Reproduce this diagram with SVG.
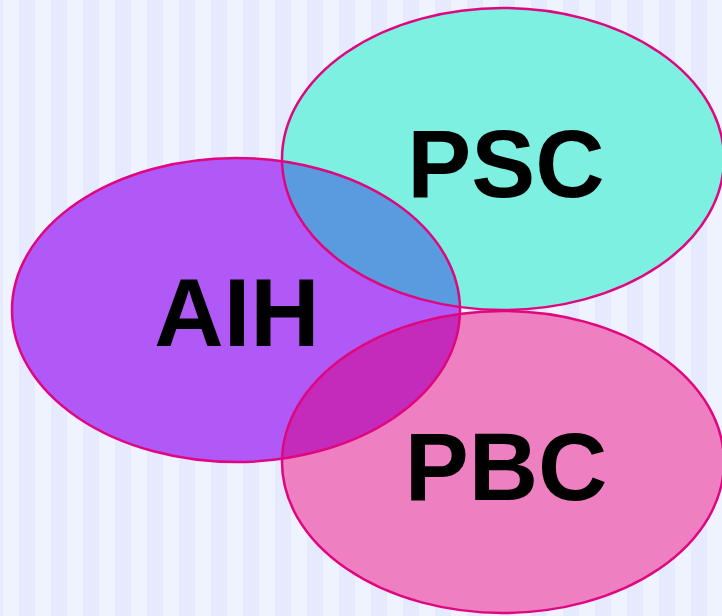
<svg xmlns="http://www.w3.org/2000/svg" xmlns:xlink="http://www.w3.org/1999/xlink" width="722" height="616" viewBox="0 0 722 616">
  <defs>
    <pattern id="stripes" x="19" y="0" width="32" height="616" patternUnits="userSpaceOnUse">
      <rect x="0" y="0" width="16" height="616" fill="#e5eaff"/>
      <rect x="16" y="0" width="16" height="616" fill="#eff3ff"/>
    </pattern>
    <ellipse id="e-aih" cx="236" cy="310" rx="224" ry="152"/>
    <ellipse id="e-psc" cx="503" cy="159" rx="221" ry="151"/>
    <ellipse id="e-pbc" cx="503" cy="462" rx="221" ry="151"/>
    <clipPath id="clip-aih"><use xlink:href="#e-aih"/></clipPath>
  </defs>
  <style>
    .lbl { font-family: "Liberation Sans", Arial, sans-serif; font-weight: bold; font-size: 96px; fill: #000; text-anchor: middle; }
    .edge { fill: none; stroke: #e0067f; stroke-width: 2.5; }
  </style>
  <rect width="722" height="616" fill="url(#stripes)"/>
  <g id="node-aih">
    <use xlink:href="#e-aih" fill="#b159f7"/>
  </g>
  <g id="node-psc">
    <use xlink:href="#e-psc" fill="#7ef0e2"/>
  </g>
  <g id="node-pbc">
    <use xlink:href="#e-pbc" fill="#ee7fc0"/>
  </g>
  <g id="overlaps" clip-path="url(#clip-aih)">
    <use xlink:href="#e-psc" fill="#5a9adf"/>
    <use xlink:href="#e-pbc" fill="#c42bba"/>
  </g>
  <g id="outlines">
    <use xlink:href="#e-aih" class="edge"/>
    <use xlink:href="#e-psc" class="edge"/>
    <use xlink:href="#e-pbc" class="edge"/>
  </g>
  <g id="labels">
    <text class="lbl" x="506" y="197">PSC</text>
    <text class="lbl" x="237" y="346">AIH</text>
    <text class="lbl" x="506" y="500">PBC</text>
  </g>
</svg>
